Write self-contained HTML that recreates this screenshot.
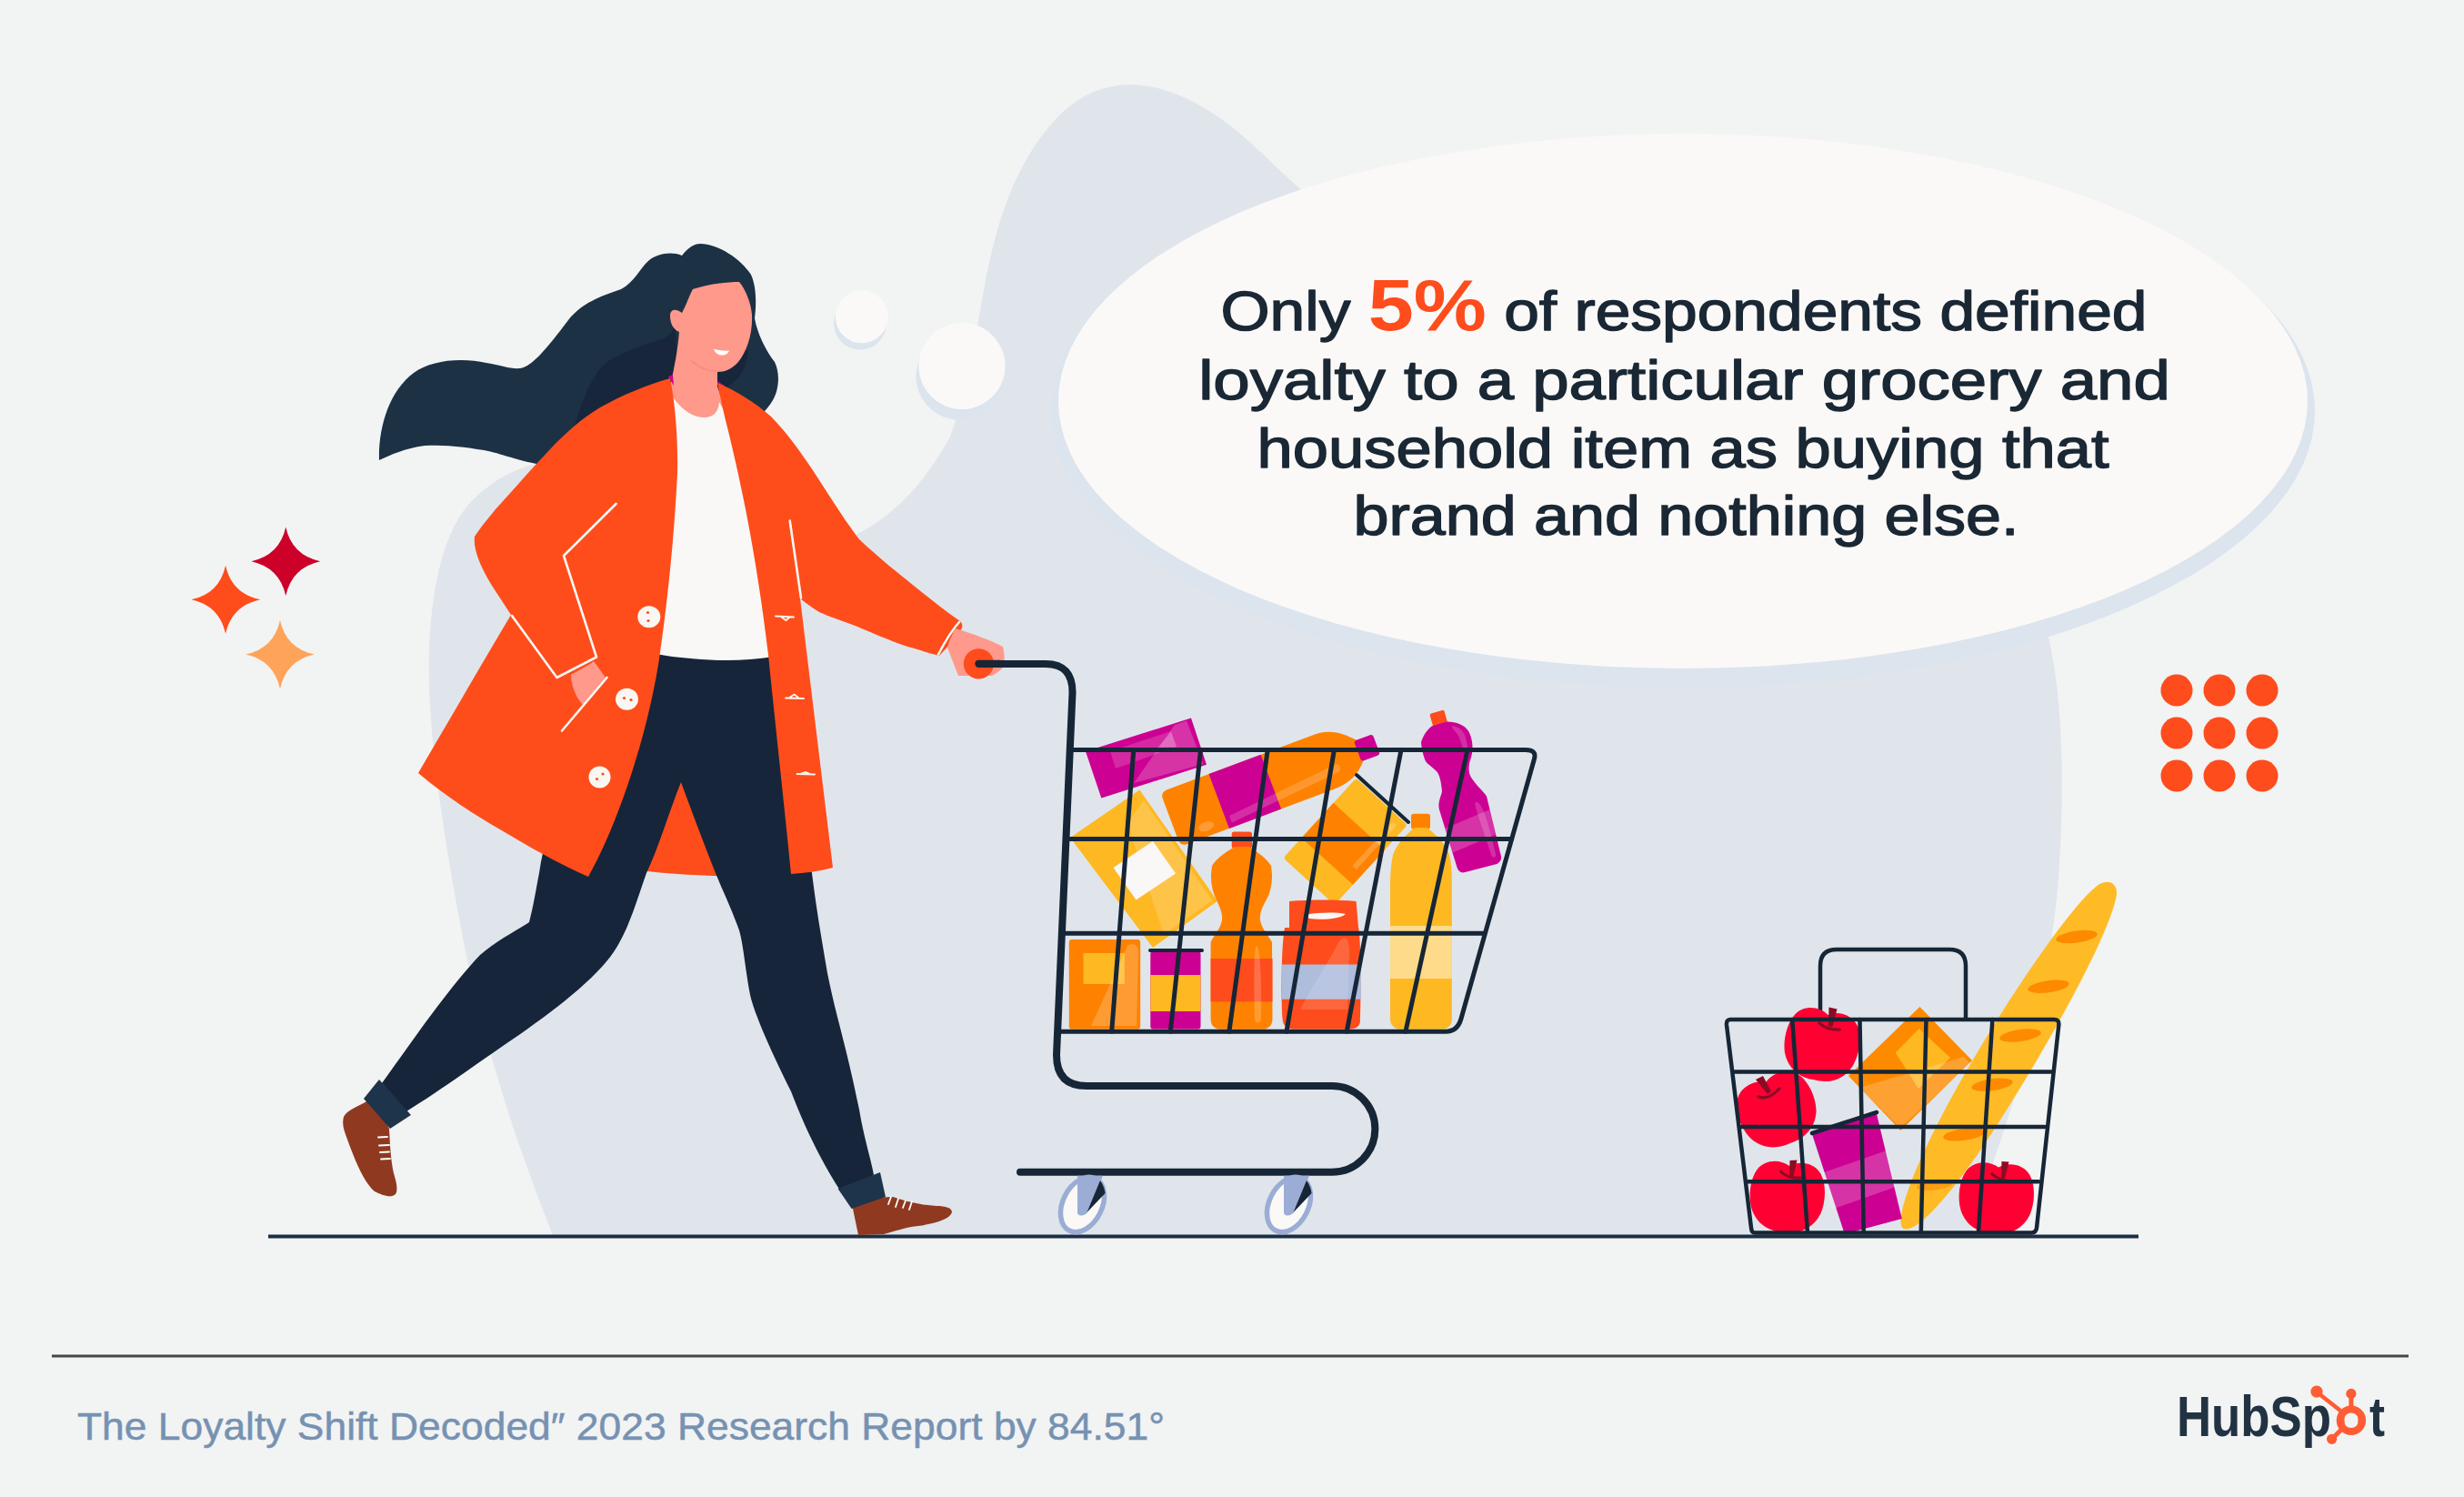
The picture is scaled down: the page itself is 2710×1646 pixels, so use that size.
<!DOCTYPE html>
<html lang="en">
<head>
<meta charset="utf-8">
<title>The Loyalty Shift Decoded</title>
<style>
html,body{margin:0;padding:0;background:#f2f3f3;}
body{width:2710px;height:1646px;overflow:hidden;}
svg{display:block;}
.t{font-family:"Liberation Sans",Arial,sans-serif;}
</style>
</head>
<body>
<svg width="2710" height="1646" viewBox="0 0 2710 1646">
<!-- background -->
<rect x="0" y="0" width="2710" height="1646" fill="#f2f3f3"/>
<!-- blob -->
<path id="blob" fill="#e0e5ec" d="M609,1360 C580,1290 530,1150 505,1010 C485,900 470,800 472,720 C474,640 490,575 525,545 C550,522 575,512 600,508 L700,520 C760,560 820,600 900,602 C960,590 1010,545 1045,480 C1060,440 1070,390 1080,330 C1095,240 1120,170 1170,122 C1195,100 1220,93 1245,93 C1300,95 1350,130 1400,180 C1600,380 2200,560 2250,690 C2270,760 2270,870 2265,950 C2260,1050 2230,1170 2195,1270 C2185,1300 2175,1330 2168,1360 Z"/>
<!-- thought bubbles -->
<circle cx="946" cy="355.5" r="29" fill="#dce4ee"/>
<circle cx="947.8" cy="348.3" r="29" fill="#faf9f7"/>
<circle cx="1055" cy="414" r="47.5" fill="#dce4ee"/>
<circle cx="1058" cy="402.5" r="47.5" fill="#faf9f7"/>
<!-- speech bubble -->
<ellipse cx="1851" cy="452" rx="695" ry="304" fill="#dce4ee"/>
<ellipse cx="1851" cy="441" rx="687" ry="294" fill="#faf9f7"/>
<!-- sparkles -->
<g id="sparkles">
<path fill="#cc0029" d="M314.3,579.6 Q321,610.5 352.2,617.2 Q321,624 314.3,655.1 Q307.6,624 276.4,617.2 Q307.6,610.5 314.3,579.6 Z"/>
<path fill="#fe4c1a" d="M248.1,621.7 Q254.8,652.6 286.3,659.3 Q254.8,666 248.1,696.8 Q241.4,666 210.5,659.3 Q241.4,652.6 248.1,621.7 Z"/>
<path fill="#fea35a" d="M308,682 Q314.7,712.9 345.9,719.6 Q314.7,726.3 308,757.5 Q301.3,726.3 270.1,719.6 Q301.3,712.9 308,682 Z"/>
</g>
<!-- dots -->
<g fill="#fe4c1c">
<circle cx="2394" cy="759" r="17.5"/><circle cx="2441" cy="759" r="17.5"/><circle cx="2488" cy="759" r="17.5"/>
<circle cx="2394" cy="806" r="17.5"/><circle cx="2441" cy="806" r="17.5"/><circle cx="2488" cy="806" r="17.5"/>
<circle cx="2394" cy="853" r="17.5"/><circle cx="2441" cy="853" r="17.5"/><circle cx="2488" cy="853" r="17.5"/>
</g>
<!-- ground -->
<rect x="295" y="1357.5" width="2057" height="4" fill="#1c3044"/>
<!--WOMAN-->
<g id="woman">
<!-- hair back -->
<path fill="#1d3145" d="M417,506 C416,470 428,430 455,410 C475,396 505,393 535,399 C552,402 562,406 572,405 C585,403 600,385 625,352 C640,333 660,326 683,318 C697,311 704,295 713,287 C722,279 738,276 750,281 C756,273 763,268 770,268 C790,268 815,285 826,302 C832,315 832,335 830,350 C833,367 842,385 852,398 C858,410 857,428 850,440 C843,452 830,465 815,470 L640,520 C620,515 600,512 590,510 C560,504 545,496 525,494 C500,490 485,489 467,490 C445,493 430,500 417,506 Z"/>
<!-- darker inner hair -->
<path fill="#17263a" d="M630,475 C640,440 650,415 665,400 C685,385 715,378 730,372 C740,367 742,360 742,356 L748,440 L760,480 Z M823,385 C822,403 813,418 800,425 L785,433 L785,400 Z"/>
<!-- back coat (between legs) -->
<path fill="#fe4d1b" d="M700,700 L850,700 L860,958 C840,962 810,964 785,963 C755,962 730,960 712,958 Z"/>
<!-- pants -->
<path fill="#16253a" d="M712,712 L852,712 C860,780 880,880 893,960 C898,1000 903,1029 910,1070 C920,1120 930,1146 945,1220 C950,1250 958,1275 961,1292 L924,1309 C905,1280 885,1240 870,1200 C850,1160 832,1120 826,1098 C820,1070 818,1040 813,1023 C805,1000 795,980 787,960 C775,930 760,890 749,860 C735,895 725,930 711,960 C700,990 690,1030 668,1056 C640,1090 590,1125 546,1155 C510,1180 475,1205 447,1222 L420,1191 C450,1150 490,1090 528,1050 C545,1035 570,1022 582,1014 C587,995 590,975 593,960 C605,880 650,780 712,712 Z"/>
<!-- shoes -->
<path fill="#8f3a20" d="M410,1204 L405,1210 C392,1218 382,1220 378,1228 C376,1236 378,1242 381,1250 C390,1275 400,1300 412,1310 C420,1314 430,1318 435,1313 C438,1308 436,1300 433,1290 C429,1272 429,1255 428,1241 Z"/>
<path fill="#8f3a20" d="M930,1318 L938,1329 L944,1358 L972,1357 C985,1354 992,1350 1010,1348 C1030,1345 1045,1340 1047,1333 C1047,1328 1040,1326 1030,1326 C1010,1325 995,1320 982,1316 Z"/>
<!-- cuffs -->
<path fill="#1e344a" d="M417,1187 L400,1208 L429,1241 L452,1226 Z"/>
<path fill="#1e344a" d="M921.6,1307 L936.6,1329 L974,1316 L968,1289 Z"/>
<g stroke="#ffffff" stroke-width="1.8" stroke-linecap="round">
<path d="M416,1250.5 L426,1250"/><path d="M417,1259.5 L428,1259"/><path d="M418,1267 L428,1266.5"/><path d="M419,1274.5 L429,1274"/>
<path d="M980,1316 L977,1324"/><path d="M988,1318 L985,1327"/><path d="M996,1320 L993,1328"/><path d="M1003,1321 L1000,1330"/>
</g>
<!-- shirt -->
<!-- face/neck -->
<path fill="#fe998b" d="M762,318 C780,312 800,310 813,310 C820,318 826,333 827,346 C828,366 822,386 812,398 C805,406 797,409 789,409 L789,425 L798,450 L798,478 L732,478 L735,440 C737,420 744,400 747,365 C740,362 737,355 737,347 C737,341 742,338 750,344 C755,335 758,325 762,318 Z"/>
<path fill="#f9f8f6" d="M737,432 C748,450 762,459 774,459 C786,459 790,452 791,442 L806,470 C821,530 841,640 851,722 C820,727 790,727 760,724 C745,723 733,721 721,719 C733,660 741,580 741,500 C741,470 740,455 736,442 Z"/>
<path fill="none" stroke="#ee8a80" stroke-width="1.4" d="M760,396 C768,404 778,408 788,408"/>
<path fill="#ffffff" d="M785,384 C790,385 797,386 802,385.5 C801,389 797,391 793,390.5 C789,390 786,387 785,384 Z"/>
<path fill="#cc0092" d="M735,414 L740,412 L741,424 Z M789,419 L797,424 L791,428 Z"/>
<!-- coat left panel + sleeve -->
<path fill="#fe4d1b" d="M737,416 C712,423 685,434 660,448 C640,460 622,476 605,494 C585,515 565,538 545,560 C535,572 527,582 522,590 C520,605 530,627 545,650 L562,676 C530,730 495,790 460,850 C490,875 520,895 550,912 C580,930 615,950 647,964 C675,915 710,820 725,725 C733,670 741,600 745,520 C746,480 742,440 737,416 Z"/>
<!-- skin hand (pocket) -->
<path fill="#fe998b" d="M628,742 C640,735 650,730 653,727 L666,745 L641,775 C632,765 628,752 628,742 Z"/>
<!-- coat right panel + arm -->
<path fill="#fe4d1b" d="M789,421 C810,430 830,442 848,458 C870,480 893,515 912,545 C925,565 935,580 945,593 C965,612 990,632 1010,648 C1025,660 1040,672 1056,683 C1059,686 1059,690 1057,692 C1050,702 1042,712 1033,721 C1020,718 1010,714 998,711 C975,703 960,696 943,689 C925,682 912,678 901,673 C893,668 886,663 880,658 L916,954 C900,958 885,960 870,961 C862,880 853,800 845,720 C838,660 828,600 820,560 C812,520 805,490 800,470 C795,450 792,435 789,421 Z"/>
<!-- hand on handle -->
<path fill="#fe998b" d="M1051,691 C1070,697 1090,704 1103,711 C1105,720 1105,728 1104.5,732 C1100,738 1095,741 1091,743 L1054,743 C1050,733 1046,722 1042,712 C1044,704 1048,696 1051,691 Z"/>
<!-- coat white details -->
<g fill="none" stroke="#faf7f3" stroke-width="2.6" stroke-linecap="round" stroke-linejoin="round">
<path d="M677.5,554 L620,611 L656,722.5 L612.5,745 L563,677"/>
<path d="M667.5,745 L618,803.5"/>
<path d="M868.7,572.5 L881,657.5"/>
<path d="M1055,684 C1045,695 1038,708 1032,719.5"/>
</g>
<g fill="#faf7f3">
<ellipse cx="713.8" cy="678.3" rx="12.5" ry="12"/>
<ellipse cx="689.5" cy="768.8" rx="12.5" ry="12"/>
<ellipse cx="659.5" cy="854.5" rx="12" ry="12"/>
</g>
<g fill="#fe4d1b">
<circle cx="712.5" cy="673.5" r="1.6"/><circle cx="713" cy="682.5" r="1.6"/>
<circle cx="686.5" cy="767.5" r="1.6"/><circle cx="694" cy="769.5" r="1.6"/>
<circle cx="656.5" cy="856.5" r="1.6"/><circle cx="663" cy="851" r="1.6"/>
</g>
<g fill="none" stroke="#faf7f3" stroke-width="1.8" stroke-linecap="round">
<path d="M853,677.5 L873,678.5 M860,679 L864.5,682 L868,679"/>
<path d="M864,767.5 L884,768 M869,766.5 L873.5,763.5 L877.5,766.5"/>
<path d="M876.5,851 L896,851.5 M881,850.5 L886,849 L891,851"/>
</g>
</g>

<!--/WOMAN-->
<!--CART-->
<g id="cart">
<!-- products (back to front) -->
<!-- magenta box -->
<path fill="#cc0092" d="M1194,826.3 L1310,789.5 L1327,840.8 L1211.3,877.6 Z"/>
<path fill="#ffffff" opacity="0.2" d="M1247,861 L1292,797 L1305,792.5 L1323.5,840 Z"/>
<path fill="#ffffff" opacity="0.16" d="M1221,826 L1288,804 L1294,821 L1227,845 Z"/>
<path fill="#ffffff" opacity="0.15" d="M1273,822 L1288,805 L1294,821 Z"/>
<!-- long bottle -->
<g transform="translate(1287,900) rotate(-20.5)">
<path fill="#fe8200" d="M8,-31 L180,-31 C200,-31 212,-20 222,-9 L222,14 C212,26 200,33 180,33 L8,33 C3,33 0,30 0,25 L0,-23 C0,-28 3,-31 8,-31 Z"/>
<rect x="57" y="-31" width="61" height="64" fill="#cc0092"/>
<rect x="219" y="-9" width="22" height="24" rx="3" fill="#cc0092"/>
<path fill="#ffffff" opacity="0.18" d="M62,20 L190,8 C197,8 197,16 190,17 L62,28 Z"/>
<ellipse cx="34" cy="22" rx="9" ry="5" fill="#ffffff" opacity="0.2"/>
</g>
<!-- yellow box left -->
<path fill="#feb822" d="M1177,921 L1253.4,868.4 L1339,990.8 L1268,1042 Z"/>
<path fill="#ffffff" opacity="0.18" d="M1258,880 L1333,990 L1280,1028 L1240,905 Z"/>
<path fill="#faf8f6" d="M1224.5,954 L1268,925 L1293,960.5 L1249.5,989.5 Z"/>
<!-- orange/yellow box right -->
<g transform="translate(1411.3,943.4) rotate(-47.6)">
<rect x="0" y="0" width="119" height="76.5" rx="4" fill="#feb822"/>
<rect x="30" y="0" width="52" height="76.5" fill="#fe8200"/>
<path fill="#ffffff" opacity="0.2" d="M45,62 L108,62 C112,62 112,68 108,68 L45,68 Z"/>
</g>
<path stroke="#162636" stroke-width="4" stroke-linecap="round" d="M1492,852 L1549,904"/>
<!-- magenta cleaning bottle -->
<g transform="translate(1582,790) rotate(-16.2)">
<rect x="-8" y="-7.5" width="16.5" height="15" rx="2" fill="#fe4c1c"/>
<path fill="#cc0092" d="M-9,6 L8,6 C18,9 26,15 28,23 C30,32 28,45 20,55 C16,62 15,68 17,74 C20,84 25,90 27,97 L24,164 C24,168 21,171 17,171.5 L-20,170.5 C-24,170 -26,167 -26,163 L-27,97 C-27,88 -20,82 -18.5,78 C-17,70 -16,63 -17.4,57 C-20,50 -26,45 -26.8,40 C-27.5,32 -26.5,24 -25.6,20 C-22,14 -15,8 -9,6 Z"/>
<path fill="#ffffff" opacity="0.2" d="M-26.5,118 L26,112 L25,140 L-26,146 Z"/>
<path fill="#ffffff" opacity="0.18" d="M14,100 C18,100 20,110 20,125 L19,160 C19,165 14,165 14,160 L12,110 C12,104 12,100 14,100 Z"/>
<path fill="#ffffff" opacity="0.18" d="M12,12 C18,14 23,20 23,28 L22,40 C21,44 17,44 17,40 L16,25 C15,20 11,16 12,12 Z"/>
</g>
<!-- bottom row -->
<rect x="1175.8" y="1033" width="78.4" height="98.6" rx="3" fill="#fe8200"/>
<rect x="1191.6" y="1048" width="45.2" height="34" fill="#feb822"/>
<path fill="#ffffff" opacity="0.2" d="M1200,1128 L1240,1040 C1248,1035 1252,1040 1252,1048 L1250,1128 Z"/>
<rect x="1265.3" y="1046" width="55.2" height="85.6" rx="3" fill="#cc0092"/>
<rect x="1265.3" y="1072" width="55.2" height="40" fill="#feb822"/>
<path stroke="#162636" stroke-width="4" stroke-linecap="round" d="M1265,1045 L1322,1045"/>
<!-- tall orange bottle -->
<rect x="1354.7" y="914.5" width="22.3" height="18" rx="2.5" fill="#fe4c1c"/>
<path fill="#fe8200" d="M1358,931 L1374,931 C1385,938 1394,945 1398,952 C1400,965 1399,975 1395,985 C1390,995 1385,1002 1386,1012 C1388,1022 1396,1030 1399,1036 L1399.5,1120 C1399.5,1128 1395,1131.6 1388,1131.6 L1343,1131.6 C1336,1131.6 1331.6,1128 1331.6,1120 L1331.6,1036 C1334,1030 1342,1022 1344,1012 C1345,1002 1340,995 1336,985 C1332,975 1331,965 1333,952 C1337,945 1346,938 1358,931 Z"/>
<rect x="1331.6" y="1054" width="67.9" height="47.3" fill="#fe4c1c"/>
<path fill="#ffffff" opacity="0.2" d="M1382,1040 C1386,1040 1388,1080 1387,1120 C1386,1126 1380,1126 1380,1120 C1379,1080 1379,1040 1382,1040 Z"/>
<!-- red jar -->
<path fill="#fe4c1c" d="M1418,991 C1440,989 1470,989 1491.6,991 L1494,1020 L1418,1020 Z"/>
<path fill="#faf8f6" d="M1435,1006 C1450,1003 1470,1003 1480,1005 C1475,1010 1455,1012 1440,1010 Z"/>
<path fill="#fe4c1c" d="M1413,1020 L1494,1020 C1497,1030 1497,1100 1496,1123 C1495,1130 1490,1131.6 1480,1131.6 L1425,1131.6 C1415,1131.6 1411,1128 1410.5,1120 C1409,1100 1409,1040 1413,1020 Z"/>
<rect x="1410" y="1060.5" width="86.8" height="38.2" fill="#aebddc"/>
<path fill="#ffffff" opacity="0.15" d="M1430,1110 C1440,1090 1460,1060 1470,1040 C1478,1025 1485,1030 1484,1050 L1482,1110 Z"/>
<!-- yellow tall bottle -->
<rect x="1552" y="894.7" width="21" height="17" rx="3" fill="#fe8200"/>
<path fill="#feb822" d="M1556,910 L1569,910 C1580,918 1590,928 1594,940 C1596.5,950 1596.8,960 1596.8,975 L1596.8,1120 C1596.8,1128 1592,1131.6 1585,1131.6 L1541,1131.6 C1534,1131.6 1529,1128 1529,1120 L1529,975 C1529,960 1530,950 1532,940 C1536,928 1546,918 1556,910 Z"/>
<rect x="1529" y="1018" width="67.8" height="58" fill="#fedb8a"/>
<!-- frame -->
<g fill="none" stroke="#162636" stroke-linecap="round" stroke-linejoin="round">
<path stroke-width="5" d="M1180,824.5 L1678,824.5 Q1690,824.5 1687.6,834 L1607,1120 Q1603,1134.2 1590,1134.2 L1165,1134.2"/>
<path stroke-width="5" d="M1177,922.4 L1662.6,922.4 M1170.5,1026.3 L1632.4,1026.3"/>
<path stroke-width="5" d="M1246.8,824.5 L1222.7,1134.2 M1320.5,824.5 L1287.3,1134.2 M1394.2,824.5 L1351.9,1134.2 M1467.4,824.5 L1415,1134.2 M1541,824.5 L1481.2,1134.2 M1614,824.5 L1545.9,1134.2"/>
<path stroke-width="8" d="M1076,730 L1150,730 Q1180,730 1179.5,762 L1162,1160 Q1162,1194 1195,1194 L1465,1194 A47.3,47.3 0 0 1 1465,1288.7 L1122,1288.7"/>
</g>
<!-- wheels -->
<g id="wheel">
<ellipse cx="1190.5" cy="1324.5" rx="21.5" ry="32" transform="rotate(27 1190.5 1324.5)" fill="#faf9f7" stroke="#9badd5" stroke-width="5.5"/>
<path fill="#9badd5" d="M1185,1292.7 L1213,1292.7 L1210,1300 L1196,1333 C1193,1337 1187,1338 1185,1334 Z"/>
<path fill="#162636" d="M1210,1298 C1213,1302 1215,1307 1215.5,1312 L1195.5,1333 Z"/>
</g>
<use href="#wheel" transform="translate(227,0)"/>
<!-- grip -->
<circle cx="1076.4" cy="729.8" r="16.6" fill="#fe4c1c"/>
<path fill="none" stroke="#162636" stroke-width="8.3" stroke-linecap="round" d="M1076.4,729.8 L1100,729.8"/>
</g>

<!--/CART-->
<!--BASKET-->
<g id="basket">
<!-- handle -->
<path fill="none" stroke="#162636" stroke-width="4.5" d="M2002,1121 L2002,1062 Q2002,1044 2020,1044 L2144,1044 Q2162,1044 2162,1062 L2162,1121"/>
<!-- baguette -->
<g transform="translate(2209.5,1158) rotate(-58.9)">
<path fill="#febb26" d="M-225,0 C-225,-14 -150,-28 -40,-30 C80,-32 185,-23 210,-11 C222,-4 221,7 209,12 C170,26 60,32 -60,30 C-170,28 -225,14 -225,0 Z"/>
</g>
<g fill="#fe8a00">
<ellipse cx="2284" cy="1030" rx="23" ry="6.5" transform="rotate(-8 2284 1030)"/>
<ellipse cx="2253" cy="1084.7" rx="23" ry="6.5" transform="rotate(-8 2253 1084.7)"/>
<ellipse cx="2222" cy="1138.5" rx="23" ry="6.5" transform="rotate(-8 2222 1138.5)"/>
<ellipse cx="2191" cy="1192.7" rx="23" ry="6.5" transform="rotate(-8 2191 1192.7)"/>
<ellipse cx="2160" cy="1247.4" rx="23" ry="6.5" transform="rotate(-8 2160 1247.4)"/>
<ellipse cx="2128" cy="1303" rx="20" ry="5.5" transform="rotate(-8 2128 1303)" opacity="0.6"/>
</g>
<!-- orange diamond box -->
<path fill="#fe8a00" d="M2111.4,1107 L2169,1166 L2090.4,1243 L2033,1183 Z"/>
<path fill="#feb822" d="M2110.6,1131 L2145,1163 L2110,1197 L2084.8,1157.6 Z"/>
<path fill="#ffffff" opacity="0.2" d="M2045,1196 L2160,1162 L2167,1170 L2090,1240 Z"/>
<!-- magenta can -->
<path fill="#cc0092" d="M1992.2,1244.6 L2063.7,1223.5 L2091.8,1340 L2028.7,1356.8 Z"/>
<path fill="#ffffff" opacity="0.2" d="M2003,1290 L2075,1265 L2085,1305 L2014,1330 Z"/>
<path stroke="#162636" stroke-width="4.5" stroke-linecap="round" d="M1993,1246 L2064,1223"/>
<!-- apples -->
<g fill="#ff0033">
<path transform="translate(2003.4,1149.2) rotate(12)" d="M0,-34 C10,-41 27,-40 35,-28 C42,-17 43,2 38,16 C31,33 16,40 0,39 C-16,40 -31,33 -38,16 C-43,2 -42,-17 -35,-28 C-27,-40 -10,-41 0,-34 Z"/>
<path transform="translate(1955,1221) rotate(-22) scale(1.04,0.99)" d="M0,-34 C10,-41 27,-40 35,-28 C42,-17 43,2 38,16 C31,33 16,40 0,39 C-16,40 -31,33 -38,16 C-43,2 -42,-17 -35,-28 C-27,-40 -10,-41 0,-34 Z"/>
<path transform="translate(1965.6,1316) rotate(4)" d="M0,-34 C10,-41 27,-40 35,-28 C42,-17 43,2 38,16 C31,33 16,40 0,39 C-16,40 -31,33 -38,16 C-43,2 -42,-17 -35,-28 C-27,-40 -10,-41 0,-34 Z"/>
<path transform="translate(2195.6,1317.5) rotate(4)" d="M0,-34 C10,-41 27,-40 35,-28 C42,-17 43,2 38,16 C31,33 16,40 0,39 C-16,40 -31,33 -38,16 C-43,2 -42,-17 -35,-28 C-27,-40 -10,-41 0,-34 Z"/>
</g>
<g fill="#8a0c24">
<path d="M2011.5,1107.5 L2020.5,1109.5 L2015.5,1129 L2011,1128.5 Z"/>
<path d="M1931,1187 L1939,1183 L1948,1200 L1944,1203 Z"/>
<path d="M1968.5,1276 L1976.5,1275.5 L1972,1295 L1968,1295 Z"/>
<path d="M2201.5,1277 L2209.5,1277.5 L2205,1296 L2201,1296 Z"/>
</g>
<g fill="none" stroke="#8a0c24" stroke-width="3.2" stroke-linecap="round">
<path d="M2000.8,1124.8 Q2010,1133 2023.4,1132.1"/>
<path d="M1934,1206 Q1945,1210 1957,1197"/>
<path d="M1958.5,1288 Q1966,1296 1980,1295"/>
<path d="M2191,1290.8 Q2198,1298 2213.8,1299.3"/>
</g>
<!-- frame -->
<g fill="none" stroke="#162636" stroke-width="4.5" stroke-linecap="round" stroke-linejoin="round">
<path d="M1903,1121 L2259,1121 Q2265,1121 2264.3,1127 L2240,1350 Q2239.5,1355.4 2234,1355.4 L1930,1355.4 Q1926.5,1355.4 1926,1350 L1899,1127 Q1898.5,1121 1903,1121 Z"/>
<path d="M1908,1178.6 L2256,1178.6 M1915,1239 L2249,1239 M1922,1299.3 L2242,1299.3"/>
<path d="M1971.2,1121 L1988,1355 M2045.5,1121 L2049.7,1355 M2118.5,1121 L2112.8,1355 M2191.4,1121 L2176,1355"/>
</g>
</g>

<!--/BASKET-->
<!-- bubble text -->
<g class="t" font-weight="400" fill="#1a2734" stroke="#1a2734" stroke-width="1.4" stroke-linejoin="round" font-size="61" text-anchor="middle">
<text x="1852" y="363.1" textLength="1019" lengthAdjust="spacingAndGlyphs">Only <tspan fill="#fe4c1c" stroke="none" font-weight="700" font-size="79">5%</tspan> of respondents defined</text>
<text x="1852.5" y="438.6" textLength="1068.5" lengthAdjust="spacingAndGlyphs">loyalty to a particular grocery and</text>
<text x="1851.1" y="513.7" textLength="937" lengthAdjust="spacingAndGlyphs">household item as buying that</text>
<text x="1854.5" y="588" textLength="732" lengthAdjust="spacingAndGlyphs">brand and nothing else.</text>
</g>
<!-- footer -->
<rect x="57" y="1489.5" width="2592" height="3" fill="#444748"/>
<text class="t" x="85" y="1583" font-size="43" fill="#7692b2" stroke="#7692b2" stroke-width="0.5" textLength="1196" lengthAdjust="spacingAndGlyphs">The Loyalty Shift Decoded″ 2023 Research Report by 84.51°</text>
<!--LOGO-->
<g id="logo">
<text class="t" x="2394" y="1578.5" font-size="63" font-weight="700" fill="#213343" textLength="170" lengthAdjust="spacingAndGlyphs">HubSp</text>
<g stroke="#ff5c35" stroke-linecap="round" fill="#ff5c35">
<path d="M2585.9,1546 L2585.9,1533" stroke-width="5"/>
<path d="M2574,1551 L2548,1530.5" stroke-width="4.5"/>
<path d="M2575,1572 L2564.6,1582.3" stroke-width="5"/>
</g>
<g fill="#ff5c35">
<circle cx="2585.9" cy="1532.4" r="5.6"/>
<circle cx="2548" cy="1530.2" r="6.6"/>
<circle cx="2564.6" cy="1582.3" r="5.6"/>
</g>
<text class="t" x="2585.9" y="1575.3" font-size="52" font-weight="400" fill="#ff5c35" text-anchor="middle">o</text>
<circle cx="2585.9" cy="1561.8" r="12.25" fill="none" stroke="#ff5c35" stroke-width="7.9"/>
<text class="t" x="2606" y="1578.5" font-size="61" font-weight="700" fill="#213343" textLength="17" lengthAdjust="spacingAndGlyphs">t</text>
</g>

<!--/LOGO-->
</svg>
</body>
</html>
